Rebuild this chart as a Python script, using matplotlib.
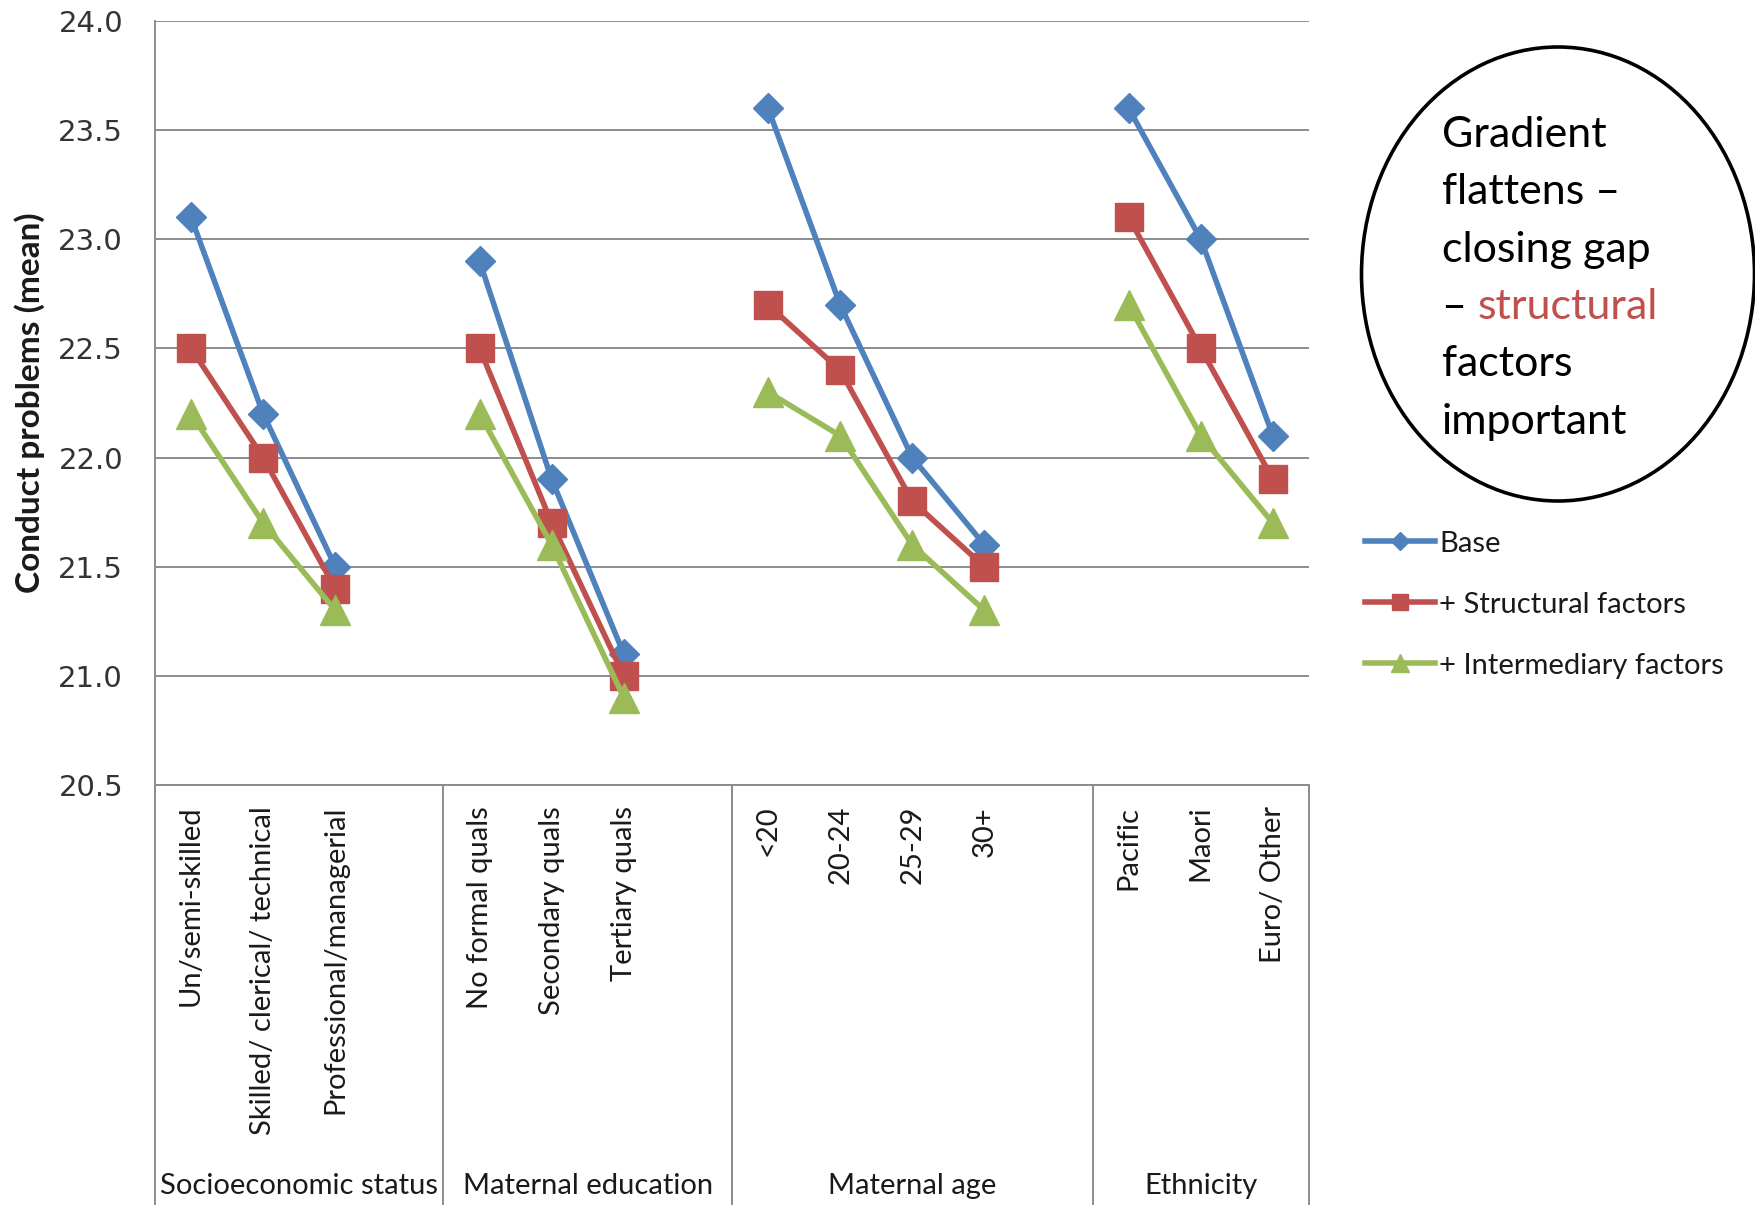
import numpy as np
import matplotlib.pyplot as plt
from matplotlib.patches import Ellipse
from matplotlib.transforms import blended_transform_factory

# categories, grouped by the exposure they belong to
categories = ["Un/semi-skilled", "Skilled/ clerical/ technical", "Professional/managerial",
              "No formal quals", "Secondary quals", "Tertiary quals",
              "<20", "20-24", "25-29", "30+",
              "Pacific", "Maori", "Euro/ Other"]
group_names = ["Socioeconomic status", "Maternal education", "Maternal age", "Ethnicity"]
group_sizes = [3, 3, 4, 3]

# mean conduct problem scores for each model
base = [23.1, 22.2, 21.5, 22.9, 21.9, 21.1, 23.6, 22.7, 22.0, 21.6, 23.6, 23.0, 22.1]
structural = [22.5, 22.0, 21.4, 22.5, 21.7, 21.0, 22.7, 22.4, 21.8, 21.5, 23.1, 22.5, 21.9]
intermediary = [22.2, 21.7, 21.3, 22.2, 21.6, 20.9, 22.3, 22.1, 21.6, 21.3, 22.7, 22.1, 21.7]

series = [
    ("Base", base, "#4F81BD", "D", 15),
    ("+ Structural factors", structural, "#C0504D", "s", 20),
    ("+ Intermediary factors", intermediary, "#9BBB59", "^", 21),
]

W, H = 1756, 1205
fig = plt.figure(figsize=(W / 100, H / 100), dpi=100)
ax = fig.add_axes([155 / W, 1 - 785 / H, (1309 - 155) / W, (785 - 21) / H])

# x slots: one empty slot between groups
xpos, starts = [], []
x = 0
for n in group_sizes:
    starts.append(x)
    xpos.extend(range(x, x + n))
    x += n + 1
nslots = x - 1
xpos = np.array(xpos)

handles = []
for label, vals, color, marker, ms in series:
    vals = np.array(vals)
    i = 0
    for n in group_sizes:
        ax.plot(xpos[i:i + n], vals[i:i + n], color=color, lw=4,
                marker=marker, ms=ms, mec=color, mfc=color, clip_on=False,
                zorder=3)
        i += n
    handles.append(plt.Line2D([], [], color=color, lw=4, marker=marker,
                              ms=ms * 0.6, mec=color, mfc=color, label=label))

ax.set_xlim(-0.5, nslots - 0.5)
ax.set_ylim(20.5, 24.0)
ax.set_yticks(np.arange(20.5, 24.01, 0.5))
ax.set_yticklabels([f"{v:.1f}" for v in np.arange(20.5, 24.01, 0.5)],
                   fontfamily="DejaVu Sans", fontsize=21, color="#333333")
ax.tick_params(axis="y", length=0, pad=23)

labels = [""] * nslots
for p, c in zip(xpos, categories):
    labels[p] = c
ax.set_xticks(range(nslots))
ax.set_xticklabels(labels, rotation=90, fontfamily="Lato", fontsize=21,
                   color="#1a1a1a")
ax.tick_params(axis="x", length=0, pad=15)

ax.yaxis.grid(True, color="#8c8c8c", lw=1.4)
ax.set_axisbelow(True)
for s in ["top", "right"]:
    ax.spines[s].set_visible(False)
for s in ["left", "bottom"]:
    ax.spines[s].set_color("#8c8c8c")
    ax.spines[s].set_linewidth(1.4)

# group dividers and group names under the category labels
trans = blended_transform_factory(ax.transData, fig.transFigure)
y_axis = 1 - 785 / H
edges = [-0.5] + [s + n - 0.5 + 1 for s, n in zip(starts[:-1], group_sizes[:-1])] + [nslots - 0.5]
for e in edges:
    ax.plot([e, e], [0, y_axis], transform=trans, color="#8c8c8c", lw=1.4,
            clip_on=False)
for name, e0, e1 in zip(group_names, edges[:-1], edges[1:]):
    fig.text((e0 + e1) / 2, 1 - 1186 / H, name, transform=trans, ha="center",
             va="center", fontfamily="Lato", fontsize=21, color="#1a1a1a")

fig.text(30 / W, 1 - 403 / H, "Conduct problems (mean)", rotation=90,
         ha="center", va="center", fontfamily="Lato", fontweight="bold",
         fontsize=24, color="#1a1a1a")

fig.legend(handles=handles, loc="upper left", bbox_to_anchor=(1350 / W, 1 - 516 / H),
           frameon=False, prop={"family": "Lato", "size": 21}, handlelength=2.4,
           handletextpad=0.15, labelspacing=1.2, borderpad=0, labelcolor="#1a1a1a")

# callout
fig.patches.append(Ellipse((1558 / W, 1 - 274 / H), 393 / W, 454 / H,
                           transform=fig.transFigure, fill=False, ec="black",
                           lw=2.6))
lines = ["Gradient", "flattens \u2013", "closing gap", None, "factors", "important"]
for k, txt in enumerate(lines):
    yb = 1 - (147 + 57.3 * k) / H
    if txt is None:
        t = fig.text(1442 / W, yb, "\u2013 ", va="baseline", ha="left",
                     fontfamily="Lato", fontsize=31, color="black")
        ax.annotate("structural", xy=(1, 0), xycoords=t, va="bottom", ha="left",
                    fontfamily="Lato", fontsize=31, color="#C0504D")
    else:
        fig.text(1442 / W, yb, txt, va="baseline", ha="left", fontfamily="Lato",
                 fontsize=31, color="black")

fig.savefig("out.png", dpi=100)
